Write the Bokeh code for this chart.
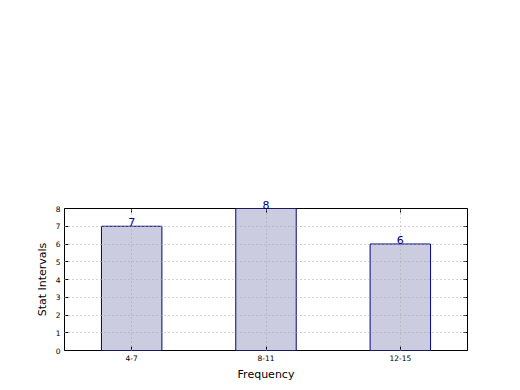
from bokeh.plotting import figure
from bokeh.models import FixedTicker, LinearAxis, Range1d, ColumnDataSource, Label
from bokeh.embed import file_html
from bokeh.resources import INLINE

categories = ["4-7", "8-11", "12-15"]
counts = [7, 8, 6]
y_ticks = [0, 1, 2, 3, 4, 5, 6, 7, 8]

xs = list(range(len(categories)))
src = ColumnDataSource(dict(x=xs, top=counts))
YMAX = y_ticks[-1]

FONT = "DejaVu Sans"
NAVY = "#000080"

p = figure(width=512, height=382, output_backend="svg", toolbar_location=None,
           x_range=Range1d(-0.5, len(categories) - 0.5), y_range=Range1d(0, YMAX),
           min_border_left=64, min_border_top=208, min_border_right=45, min_border_bottom=32)
p.frame_width = 403
p.frame_height = 142

p.vbar(x="x", top="top", width=0.45, bottom=0, source=src,
       fill_color="#ccccE0", line_color=NAVY, line_width=1)

p.outline_line_color = "black"
p.outline_line_width = 1
p.background_fill_color = "white"
p.border_fill_color = "white"

for g in (p.xgrid[0], p.ygrid[0]):
    g.grid_line_color = "#a8a8a8"
    g.grid_line_dash = "1 3"
    g.grid_line_width = 1
    g.level = "overlay"
p.xgrid[0].ticker = FixedTicker(ticks=xs)
p.ygrid[0].ticker = FixedTicker(ticks=y_ticks)

# value labels inside the frame
for xi, c in zip(xs, counts):
    if c < YMAX:
        lab = Label(x=xi, y=c, text=str(c), text_align="center", text_baseline="bottom",
                    text_color=NAVY, text_font=FONT, text_font_size="11px",
                    level="overlay")
        p.add_layout(lab)

xa = p.xaxis[0]
xa.ticker = FixedTicker(ticks=xs)
xa.major_label_overrides = {i: c for i, c in enumerate(categories)}
ya = p.yaxis[0]
ya.ticker = FixedTicker(ticks=y_ticks)

for ax, lab in ((xa, "Frequency"), (ya, "Stat Intervals")):
    ax.axis_label = lab
    ax.axis_label_text_font = FONT
    ax.axis_label_text_font_size = "11px"
    ax.axis_label_text_font_style = "normal"
    ax.axis_label_text_color = "black"
    ax.axis_label_standoff = 4
    ax.major_label_text_font = FONT
    ax.major_label_text_font_size = "7.5px"
    ax.major_label_text_color = "black"
    ax.major_label_standoff = 4
    ax.axis_line_color = None
    ax.major_tick_in = 4
    ax.major_tick_out = 0
    ax.major_tick_line_color = "black"
    ax.minor_tick_line_color = None

# right axis: ticks only
ra = LinearAxis(ticker=FixedTicker(ticks=y_ticks))
ra.major_label_text_font_size = "0px"
ra.major_label_text_alpha = 0
ra.axis_line_color = None
ra.major_tick_in = 4
ra.major_tick_out = 0
ra.minor_tick_line_color = None
ra.major_label_standoff = 0
p.add_layout(ra, "right")

# top axis: ticks, plus value labels of bars that reach the top of the frame
ta = LinearAxis(ticker=FixedTicker(ticks=xs))
ta.major_label_overrides = {xi: (str(c) if c >= YMAX else "") for xi, c in zip(xs, counts)}
ta.major_label_text_font = FONT
ta.major_label_text_font_size = "11px"
ta.major_label_text_color = NAVY
ta.major_label_standoff = 0
ta.axis_line_color = None
ta.major_tick_in = 4
ta.major_tick_out = 0
ta.minor_tick_line_color = None
p.add_layout(ta, "above")

open("out.html", "w").write(file_html(p, INLINE))
